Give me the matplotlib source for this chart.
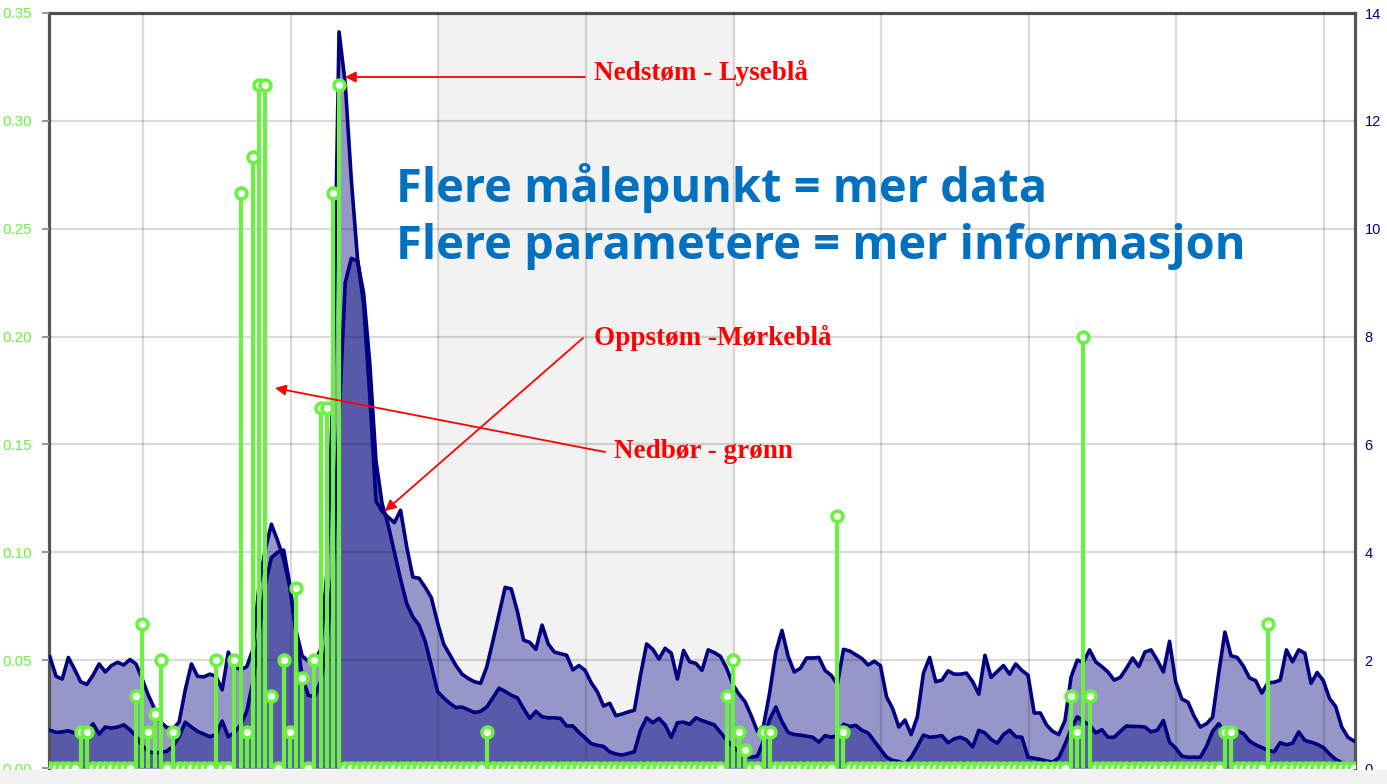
import numpy as np
import matplotlib
matplotlib.use("Agg")
import matplotlib.pyplot as plt
from matplotlib.patches import Rectangle

# ---------------- data (hourly) ----------------
# Nedstrøm (light blue area), right axis
nedstrom = [
    2.06, 1.70, 1.65, 2.05, 1.83, 1.60, 1.55, 1.72, 1.93, 1.78,
    1.90, 1.96, 1.91, 2.01, 1.93, 1.65, 1.35, 1.10, 0.85, 0.75,
    0.73, 0.85, 1.45, 1.93, 1.70, 1.69, 1.74, 1.70, 1.45, 2.15,
    1.89, 1.82, 1.88, 2.20, 3.40, 4.05, 4.52, 4.22, 3.87, 3.35,
    2.55, 2.08, 1.98, 1.95, 2.20, 3.60, 7.00, 13.65, 12.70, 10.90,
    9.45, 8.60, 6.90, 4.95, 4.76, 4.65, 4.55, 4.78, 4.10, 3.54,
    3.52, 3.35, 3.16, 2.70, 2.30, 2.10, 1.90, 1.74, 1.66, 1.60,
    1.57, 1.87, 2.35, 2.85, 3.35, 3.32, 2.90, 2.37, 2.33, 2.20,
    2.65, 2.30, 2.15, 2.12, 2.09, 1.82, 1.90, 1.81, 1.58, 1.41,
    1.15, 1.20, 0.97, 1.00, 1.04, 1.07, 1.72, 2.30, 2.20, 2.02,
    2.22, 2.13, 1.65, 2.18, 1.97, 1.94, 1.81, 2.19, 2.14, 2.07,
    1.85, 1.55, 1.37, 1.23, 0.97, 0.68, 0.78, 1.40, 2.15, 2.55,
    2.07, 1.78, 1.85, 2.04, 2.04, 2.05, 1.81, 1.72, 1.55, 2.20,
    2.17, 2.10, 2.03, 1.91, 1.98, 1.90, 1.32, 1.10, 0.76, 0.89,
    0.62, 0.95, 1.76, 2.05, 1.60, 1.63, 1.80, 1.74, 1.74, 1.76,
    1.60, 1.37, 2.09, 1.68, 1.79, 1.90, 1.74, 1.93, 1.81, 1.72,
    1.02, 1.02, 0.80, 0.68, 0.62, 0.88, 1.69, 2.00, 1.96, 2.19,
    1.97, 1.88, 1.78, 1.63, 1.68, 1.85, 2.04, 1.88, 2.15, 2.19,
    2.00, 1.78, 2.35, 1.60, 1.28, 1.22, 0.96, 0.76, 0.82, 0.94,
    1.76, 2.52, 2.08, 2.05, 1.89, 1.67, 1.62, 1.39, 1.58, 1.59,
    1.63, 2.19, 1.97, 2.19, 2.13, 1.57, 1.77, 1.62, 1.29, 1.14,
    0.76, 0.57, 0.50,
]

# Oppstrøm (dark blue area), right axis
oppstrom = [
    0.70, 0.66, 0.67, 0.69, 0.65, 0.66, 0.67, 0.82, 0.63, 0.76,
    0.74, 0.76, 0.80, 0.71, 0.59, 0.42, 0.30, 0.28, 0.29, 0.31,
    0.40, 0.58, 0.85, 0.76, 0.68, 0.63, 0.58, 0.62, 0.87, 0.58,
    0.66, 0.80, 1.05, 1.60, 2.50, 3.40, 3.90, 4.00, 4.04, 3.40,
    2.50, 1.70, 1.35, 1.32, 1.60, 2.30, 3.60, 6.50, 9.00, 9.45,
    9.40, 8.80, 7.50, 5.70, 4.90, 4.50, 4.00, 3.50, 3.05, 2.80,
    2.65, 2.35, 1.90, 1.42, 1.30, 1.20, 1.12, 1.13, 1.08, 1.03,
    1.05, 1.13, 1.30, 1.48, 1.42, 1.35, 1.30, 1.10, 0.92, 1.05,
    0.95, 0.93, 0.93, 0.92, 0.78, 0.78, 0.66, 0.56, 0.45, 0.42,
    0.40, 0.30, 0.26, 0.24, 0.27, 0.30, 0.70, 0.93, 0.84, 0.92,
    0.80, 0.57, 0.84, 0.85, 0.81, 0.93, 0.88, 0.84, 0.80, 0.66,
    0.52, 0.40, 0.30, 0.22, 0.20, 0.22, 0.50, 0.90, 1.13, 0.86,
    0.66, 0.62, 0.61, 0.59, 0.57, 0.48, 0.60, 0.57, 0.60, 0.81,
    0.77, 0.79, 0.70, 0.65, 0.50, 0.35, 0.20, 0.14, 0.12, 0.07,
    0.20, 0.40, 0.61, 0.57, 0.58, 0.60, 0.47, 0.54, 0.57, 0.52,
    0.39, 0.70, 0.65, 0.53, 0.46, 0.62, 0.70, 0.58, 0.57, 0.20,
    0.18, 0.16, 0.13, 0.11, 0.19, 0.44, 0.72, 0.95, 0.86, 0.80,
    0.65, 0.71, 0.57, 0.57, 0.68, 0.78, 0.77, 0.77, 0.76, 0.67,
    0.70, 0.88, 0.48, 0.37, 0.22, 0.20, 0.20, 0.20, 0.40, 0.68,
    0.82, 0.67, 0.68, 0.69, 0.64, 0.50, 0.43, 0.38, 0.33, 0.30,
    0.47, 0.43, 0.46, 0.67, 0.51, 0.48, 0.44, 0.38, 0.26, 0.16,
    0.10, 0.06, 0.09,
]

# Nedbør (green stems), left axis: hours with rain and amount
nedbor_timer = [5, 6, 14, 15, 16, 17, 18, 20, 27, 30, 31, 32, 33, 34, 35,
                36, 38, 39, 40, 41, 43, 44, 45, 46, 47, 71, 110, 111, 112,
                113, 116, 117, 128, 129, 166, 167, 168, 169, 191, 192, 198]
nedbor_mm = [0.0167, 0.0167, 0.0333, 0.0667, 0.0167, 0.025, 0.05, 0.0167,
             0.05, 0.05, 0.2667, 0.0167, 0.2833, 0.3167, 0.3167, 0.0333,
             0.05, 0.0167, 0.0833, 0.0417, 0.05, 0.1667, 0.1667, 0.2667,
             0.3167, 0.0167, 0.0333, 0.05, 0.0167, 0.0083, 0.0167, 0.0167,
             0.1167, 0.0167, 0.0333, 0.0167, 0.2, 0.0333, 0.0167, 0.0167,
             0.0667]

left_ticks = [0.00, 0.05, 0.10, 0.15, 0.20, 0.25, 0.30, 0.35]
right_ticks = [0, 2, 4, 6, 8, 10, 12, 14]

# ---------------- styling ----------------
W, H = 1387, 784
GREEN = "#6cf043"
NAVY = "#000080"
LIGHT = "#9696c9"
DARK = "#5959aa"
RED = "#ff0000"
BLUE = "#0070c0"

n = len(nedstrom)
hours = np.arange(n)
nedbor = np.zeros(n)
nedbor[nedbor_timer] = nedbor_mm

fig = plt.figure(figsize=(W / 100, H / 100), dpi=100)
fig.patch.set_facecolor("white")
fig.patches.append(Rectangle((0, 0), 1, 14 / H, transform=fig.transFigure,
                             facecolor="#f2f2f2", edgecolor="none", zorder=0))

ax = fig.add_axes([49 / W, (H - 768) / H, (1355 - 49) / W, (768 - 13) / H])
ax.set_xlim(-0.15, 212.15)
ax.set_ylim(0, 14)

# day grid (first midnight ~15 h into the series), weekend shaded
day_lines = 15.13 + 24 * np.arange(9)
ax.axvspan(day_lines[2], day_lines[4], color="#f2f2f2", zorder=0, lw=0)

ax.fill_between(hours, nedstrom, 0, color=LIGHT, lw=0, zorder=1)
ax.fill_between(hours, oppstrom, 0, color=DARK, lw=0, zorder=1.5)
ax.set_axisbelow(False)
ax.set_xticks(day_lines)
ax.set_xticklabels([])
ax.tick_params(axis="x", length=0)
ax.set_yticks(right_ticks)
ax.grid(True, color="black", alpha=0.14, lw=1.6)
ax.plot(hours, nedstrom, color=NAVY, lw=2.6, zorder=3, solid_joinstyle="round")
ax.plot(hours, oppstrom, color=NAVY, lw=2.6, zorder=3, solid_joinstyle="round")

for s in ["top", "left", "right"]:
    ax.spines[s].set_color("#555555")
    ax.spines[s].set_linewidth(2.3)
ax.spines["bottom"].set_visible(False)

ax2 = ax.twinx()
ax2.set_ylim(0, 0.35)
ax2.yaxis.tick_left()
ax2.yaxis.set_label_position("left")
ax2.set_yticks(left_ticks)
ax2.set_yticklabels([f"{v:.2f}" for v in left_ticks])
ax2.tick_params(axis="y", length=5, width=1.5, color="#999999", pad=7,
                labelcolor=GREEN, labelsize=11)
for lab in ax2.get_yticklabels():
    lab.set_fontfamily("Liberation Sans")
for s in ax2.spines.values():
    s.set_visible(False)

# flow axis labels on the right (after twinx, which resets them)
ax.yaxis.tick_right()
ax.yaxis.set_label_position("right")
ax.tick_params(axis="y", which="both", left=False, labelleft=False,
               right=True, labelright=True, length=0, pad=7,
               labelcolor=NAVY, labelsize=10.5)
for lab in ax.get_yticklabels():
    lab.set_fontfamily("Liberation Sans")

nz = nedbor > 0
ax2.vlines(hours[nz], 0, nedbor[nz], color=GREEN, lw=3, zorder=3)
ax2.plot(hours, nedbor, "o", mfc="white", mec=GREEN, ms=7.8, mew=2.6,
         zorder=4, clip_on=True)

# ---------------- annotations ----------------
def fp(px, py):
    return (px / W, 1 - py / H)

arrow_kw = dict(arrowstyle="-|>", color=RED, lw=1.3, mutation_scale=16,
                shrinkA=0, shrinkB=0)
red_font = dict(family="Liberation Serif", weight="bold", size=19.5, color=RED,
                va="center", ha="left")

fig.text(*fp(594, 73), "Nedstøm - Lyseblå", **red_font)
fig.text(*fp(594, 338), "Oppstøm -Mørkeblå", **red_font)
fig.text(*fp(614, 452), "Nedbør - grønn", **red_font)

for tail, head in [((585, 77), (345, 77)), ((583, 338), (385, 511)),
                   ((605, 452), (275, 388))]:
    ax2.annotate("", xy=fp(*head), xycoords="figure fraction",
                 xytext=fp(*tail), textcoords="figure fraction",
                 arrowprops=arrow_kw, zorder=6)

blue_font = dict(family="Open Sans", weight="bold", size=33.8, color=BLUE,
                 va="center", ha="left")
fig.text(*fp(396, 188), "Flere målepunkt = mer data", **blue_font)
fig.text(*fp(396, 246), "Flere parametere = mer informasjon", **blue_font)

fig.savefig("out.png", dpi=100)
